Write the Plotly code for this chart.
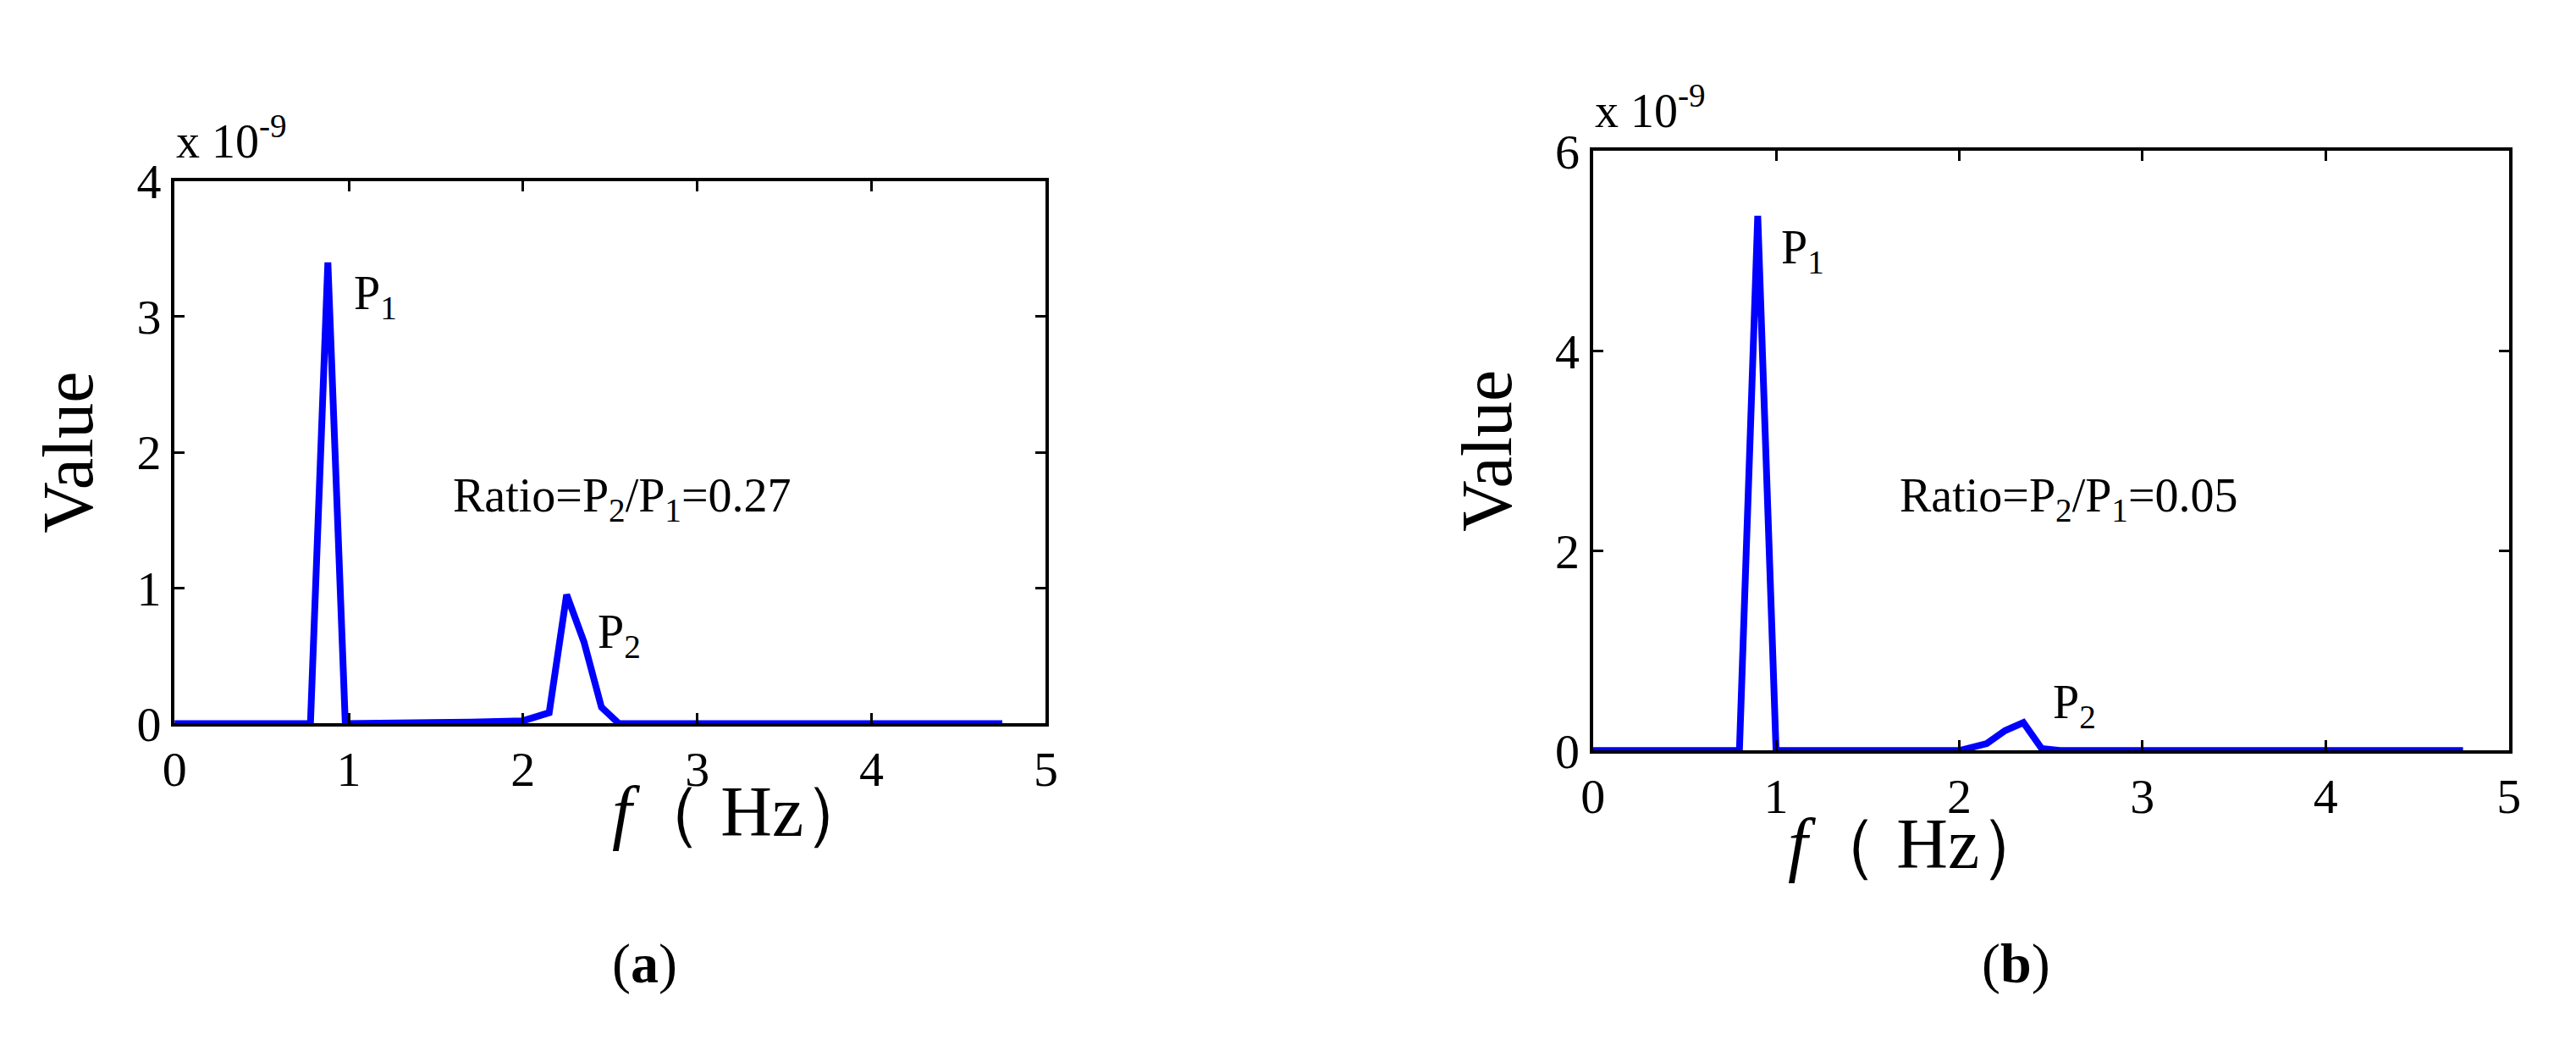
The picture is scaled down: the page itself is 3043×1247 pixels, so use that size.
import plotly.graph_objects as go

fa = [0, 0.78, 0.88, 0.98, 1.7, 2.0, 2.15, 2.25, 2.35, 2.45, 2.55, 4.75]
va = [0, 0, 3.4, 0, 0.01, 0.02, 0.08, 0.95, 0.6, 0.12, 0, 0]
fb = [0, 0.8, 0.9, 1.0, 2.0, 2.15, 2.25, 2.35, 2.45, 2.55, 4.75]
vb = [0, 0, 5.35, 0, 0, 0.07, 0.2, 0.28, 0.02, 0, 0]
xticks = [0, 1, 2, 3, 4, 5]

FONT = "Liberation Serif"
fig = go.Figure()
fig.add_trace(go.Scatter(x=fa, y=va, mode="lines", line=dict(color="#0000ff", width=8), xaxis="x", yaxis="y"))
fig.add_trace(go.Scatter(x=fb, y=vb, mode="lines", line=dict(color="#0000ff", width=8), xaxis="x2", yaxis="y2"))

ax = dict(showline=True, mirror="ticks", linecolor="black", linewidth=4, ticks="inside", ticklen=12,
          tickwidth=3, tickcolor="black", showgrid=False, zeroline=False,
          tickfont=dict(family=FONT, size=58, color="black"))
tt = dict(text="Value", font=dict(family=FONT, size=84, color="black"), standoff=25)
fig.update_layout(
    width=3043, height=1247, showlegend=False, plot_bgcolor="white", paper_bgcolor="white",
    margin=dict(l=0, r=0, t=0, b=0),
    xaxis=dict(ax, domain=[0.0611, 0.4026], range=[0, 5], tickvals=xticks, anchor="y"),
    yaxis=dict(ax, domain=[0.311, 0.853], range=[0, 4], tickvals=[0, 1, 2, 3, 4], anchor="x", title=tt),
    xaxis2=dict(ax, domain=[0.617, 0.976], range=[0, 5], tickvals=xticks, anchor="y2"),
    yaxis2=dict(ax, domain=[0.284, 0.883], range=[0, 6], tickvals=[0, 2, 4, 6], anchor="x2", title=tt),
)
tf = dict(family=FONT, size=56, color="black")
big = dict(family=FONT, size=84, color="black")
anns = [
    dict(x=1.02, y=3.15, xref="x", yref="y", text="P<sub>1</sub>", xanchor="left"),
    dict(x=2.42, y=0.65, xref="x", yref="y", text="P<sub>2</sub>", xanchor="left"),
    dict(x=2.57, y=1.66, xref="x", yref="y", text="Ratio=P<sub>2</sub>/P<sub>1</sub>=0.27", xanchor="center"),
    dict(x=1.02, y=5.0, xref="x2", yref="y2", text="P<sub>1</sub>", xanchor="left"),
    dict(x=2.5, y=0.45, xref="x2", yref="y2", text="P<sub>2</sub>", xanchor="left"),
    dict(x=2.6, y=2.52, xref="x2", yref="y2", text="Ratio=P<sub>2</sub>/P<sub>1</sub>=0.05", xanchor="center"),
    dict(x=0.061, y=0.865, xref="paper", yref="paper", text="x 10<sup>-9</sup>", xanchor="left", yanchor="bottom"),
    dict(x=0.617, y=0.895, xref="paper", yref="paper", text="x 10<sup>-9</sup>", xanchor="left", yanchor="bottom"),
    dict(x=0.232, y=0.182, xref="paper", yref="paper", text="<i>f</i>（ Hz）", font=big),
    dict(x=0.797, y=0.15, xref="paper", yref="paper", text="<i>f</i>（ Hz）", font=big),
    dict(x=0.232, y=0.038, xref="paper", yref="paper", text="(<b>a</b>)", font=dict(family=FONT, size=66, color="black")),
    dict(x=0.797, y=0.038, xref="paper", yref="paper", text="(<b>b</b>)", font=dict(family=FONT, size=66, color="black")),
]
for a in anns:
    a.setdefault("font", tf)
    a["showarrow"] = False
    fig.add_annotation(**a)

fig.write_html("out.html")
